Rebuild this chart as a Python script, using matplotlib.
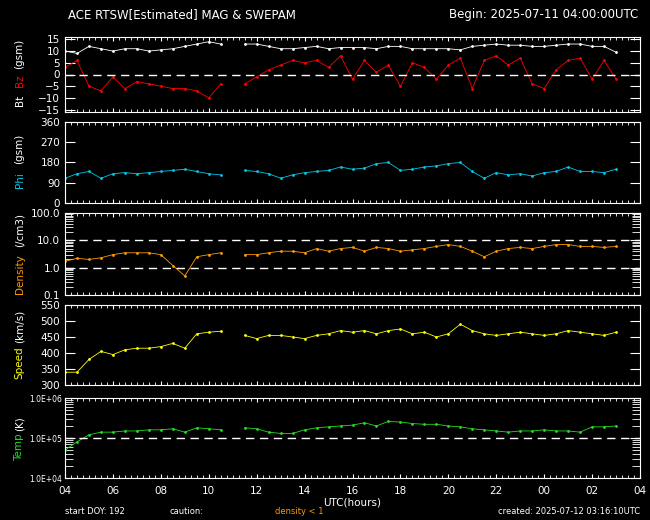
import numpy as np
import matplotlib
matplotlib.use("Agg")
import matplotlib.pyplot as plt

nan = np.nan
hours = np.arange(4.0, 27.01, 0.5)

bt = [10, 9, 12, 11, 10, 11, 11, 10, 10.5, 11, 12, 13, 14, 13, nan, 13, 13, 12, 11, 11,
      11.5, 12, 11, 11.5, 11.5, 11.5, 11, 12, 12, 11, 11, 11, 11, 10.5, 12, 12.5, 13, 12.5,
      12.5, 12, 12, 12.5, 13, 13, 12, 12, 9.5]
bz = [3, 6, -5, -7, -1, -6, -3, -4, -5, -6, -6, -7, -10, -4, nan, -4, -1, 2, 4, 6,
      5, 6, 3, 8, -2, 6, 1, 4, -5, 5, 3, -2, 4, 7, -6, 6, 8, 4,
      7, -4, -6, 2, 6, 7, -2, 6, -2]
phi = [110, 130, 140, 110, 130, 135, 130, 135, 140, 145, 150, 140, 130, 125, nan, 145, 140, 130, 110, 125,
       135, 140, 145, 160, 150, 155, 175, 180, 145, 150, 160, 165, 175, 180, 140, 110, 135, 125,
       130, 120, 135, 140, 160, 140, 140, 135, 150]
density = [1.7, 2.2, 2, 2.3, 3, 3.5, 3.5, 3.5, 3, 1.2, 0.5, 2.5, 3, 3.5, nan, 3, 3, 3.5, 4, 4,
           3.5, 5, 4, 5, 5.5, 4, 5.5, 5, 4, 4.5, 5, 6, 7, 6, 4, 2.5, 4, 5,
           5.5, 5, 6, 7, 7, 6, 6, 5.5, 6]
speed = [340, 340, 380, 405, 395, 410, 415, 415, 420, 430, 415, 460, 465, 468, nan, 455, 445, 455, 455, 450,
         445, 455, 460, 470, 465, 470, 460, 470, 475, 460, 465, 450, 460, 490, 470, 460, 455, 460,
         465, 460, 455, 460, 470, 465, 460, 455, 465]
temp = [5e4, 8e4, 1.2e5, 1.4e5, 1.4e5, 1.5e5, 1.5e5, 1.6e5, 1.6e5, 1.7e5, 1.4e5, 1.8e5, 1.7e5, 1.6e5, nan,
        1.8e5, 1.7e5, 1.4e5, 1.3e5, 1.3e5, 1.6e5, 1.8e5, 1.9e5, 2e5, 2.1e5, 2.4e5, 2e5, 2.6e5, 2.5e5,
        2.3e5, 2.2e5, 2.2e5, 2e5, 1.9e5, 1.7e5, 1.6e5, 1.5e5, 1.4e5, 1.5e5, 1.5e5, 1.6e5, 1.5e5,
        1.5e5, 1.4e5, 1.9e5, 1.9e5, 2e5]

xticks = np.arange(4, 28.1, 2)
xticklabels = ["04", "06", "08", "10", "12", "14", "16", "18", "20", "22", "00", "02", "04"]

W, H = 650, 520
fig = plt.figure(figsize=(6.5, 5.2), dpi=100, facecolor="black")
plt.rcParams["font.family"] = "DejaVu Sans"
fs = 7.5

def make_ax(top, bottom):
    ax = fig.add_axes([65 / W, 1 - bottom / H, 575 / W, (bottom - top) / H], facecolor="black")
    for s in ax.spines.values():
        s.set_color("white")
    ax.set_xlim(4, 28)
    ax.set_xticks(xticks)
    ax.set_xticks(np.arange(4, 28, 0.25), minor=True)
    ax.tick_params(colors="white", labelsize=fs, direction="in", top=True, right=True,
                   which="both", length=2)
    ax.tick_params(which="major", axis="y", length=7)
    ax.tick_params(which="major", axis="x", length=3)
    ax.tick_params(axis="x", labelbottom=False)
    return ax

def ylab(ax, text, parts):
    # parts: list of (text, colour), drawn bottom to top
    pos = ax.get_position()
    y = pos.y0 + pos.height / 2 - len(text) * 0.0055
    for t, c in parts:
        fig.text(0.03, y, t, color=c, rotation=90, fontsize=fs, ha="center", va="bottom")
        y += 0.011 * len(t) + 0.014

def dots(ax, y, c):
    ax.plot(hours, y, color=c, lw=0.6, marker=".", ms=2)

ax1 = make_ax(37, 112)
dots(ax1, bt, "white")
dots(ax1, bz, "red")
ax1.axhline(0, color="white", ls="--", lw=1, dashes=(6, 4))
ax1.set_ylim(-16, 16)
ax1.set_yticks([-15, -10, -5, 0, 5, 10, 15])
ylab(ax1, "Bt Bz (gsm)", [("Bt", "white"), ("Bz", "red"), ("(gsm)", "white")])

ax2 = make_ax(122, 203)
dots(ax2, phi, "#00c8e6")
ax2.set_ylim(0, 360)
ax2.set_yticks([0, 90, 180, 270, 360])
ylab(ax2, "Phi (gsm)", [("Phi", "#00c8e6"), ("(gsm)", "white")])

ax3 = make_ax(213, 295)
dots(ax3, density, "#ff9900")
ax3.set_yscale("log")
ax3.set_ylim(0.1, 100)
ax3.set_yticks([0.1, 1, 10, 100])
ax3.set_yticklabels(["0.1", "1.0", "10.0", "100.0"])
ax3.tick_params(axis="y", which="minor", length=6, colors="white")
ax3.axhline(1, color="white", ls="--", lw=1, dashes=(6, 4))
ax3.axhline(10, color="white", ls="--", lw=1, dashes=(6, 4))
ylab(ax3, "Density (/cm3)", [("Density", "#ff9900"), ("(/cm3)", "white")])

ax4 = make_ax(305, 385)
dots(ax4, speed, "yellow")
ax4.set_ylim(300, 550)
ax4.set_yticks([300, 350, 400, 450, 500, 550])
ylab(ax4, "Speed (km/s)", [("Speed", "yellow"), ("(km/s)", "white")])

ax5 = make_ax(398, 478)
dots(ax5, temp, "#22dd22")
ax5.set_yscale("log")
ax5.set_ylim(1e4, 1e6)
ax5.set_yticks([1e4, 1e5, 1e6])
ax5.set_yticklabels(["1.0E+04", "1.0E+05", "1.0E+06"], fontsize=5.5)
ax5.tick_params(axis="y", which="minor", length=6, colors="white")
ax5.tick_params(axis="y", which="major", pad=2)
ax5.axhline(1e5, color="white", ls="--", lw=1, dashes=(6, 4))
ax5.tick_params(axis="x", labelbottom=True, pad=6)
ax5.set_xticklabels(xticklabels)
ax5.set_xlabel("UTC(hours)", color="white", fontsize=fs, labelpad=1)
ylab(ax5, "Temp (K)", [("Temp", "#22dd22"), ("(K)", "white")])

fig.text(68 / W, 1 - 18 / H, "ACE RTSW[Estimated] MAG & SWEPAM", color="white", fontsize=8.5)
fig.text(638 / W, 1 - 18 / H, "Begin: 2025-07-11 04:00:00UTC", color="white", fontsize=8.5, ha="right")
fig.text(65 / W, 1 - 514 / H, "start DOY: 192", color="white", fontsize=6)
fig.text(170 / W, 1 - 514 / H, "caution:", color="white", fontsize=6)
fig.text(275 / W, 1 - 514 / H, "density < 1", color="#ff9900", fontsize=6)
fig.text(640 / W, 1 - 514 / H, "created: 2025-07-12 03:16:10UTC", color="white", fontsize=6, ha="right")

fig.savefig("out.png", dpi=100, facecolor="black")
